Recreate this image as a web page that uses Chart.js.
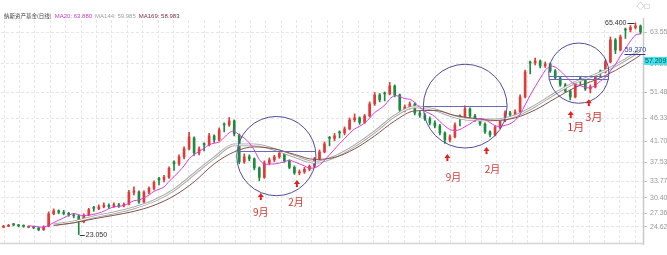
<!DOCTYPE html>
<html><head><meta charset="utf-8">
<script src="https://cdn.jsdelivr.net/npm/chart.js@4.4.1/dist/chart.umd.min.js"></script>
<style>html,body{margin:0;padding:0;background:#fff;overflow:hidden}#wrap{width:667px;height:255px;position:relative}</style>
</head><body><div id="wrap"><canvas id="c" width="667" height="255"></canvas></div>
<script>
// ---- data (one candle ≈ 2.5 trading days) ----
const opens  = [24.5,24.7,25.1,25.0,24.9,24.5,24.6,24.4,24.0,24.7,27.2,27.8,27.4,27.3,27.0,26.8,25.6,26.9,28.5,28.2,28.6,28.9,28.7,29.0,28.8,29.1,31.5,31.6,29.6,31.5,32.3,34.3,34.1,34.5,37.6,37.2,38.6,40.2,42.4,39.4,41.3,41.0,42.8,42.0,45.2,45.0,45.8,43.0,37.6,38.6,38.2,36.4,34.5,37.4,38.0,38.6,39.3,37.8,36.5,35.4,35.6,36.1,36.7,38.2,39.6,42.5,42.3,43.6,43.4,44.2,46.0,46.4,45.5,46.8,49.2,51.0,51.4,51.2,52.8,51.0,48.0,48.6,49.2,47.4,46.9,46.2,45.4,44.8,43.4,42.0,42.6,46.8,46.6,48.2,46.8,46.0,45.2,43.6,43.0,44.5,45.8,47.4,47.0,47.6,50.6,57.6,57.4,57.8,56.8,57.2,55.8,54.4,53.0,51.8,50.6,54.4,54.2,52.2,52.6,55.8,55.6,57.6,62.0,60.0,64.2,64.0,64.5,64.8];
const highs  = [24.9,25.1,25.3,25.1,25.0,24.8,24.7,24.5,24.8,27.6,28.2,28.0,27.9,27.5,27.3,27.0,27.2,28.3,28.7,29.0,29.4,29.2,29.4,29.3,29.4,31.9,32.6,31.8,31.8,32.6,33.8,34.5,34.9,36.6,37.8,39.0,40.6,43.5,42.6,40.6,41.4,43.3,43.0,44.4,45.4,46.5,46.0,43.2,39.2,39.0,38.4,36.6,37.8,38.4,38.9,39.8,39.5,38.0,36.8,36.0,36.5,37.0,38.5,40.0,41.6,42.7,43.3,43.8,44.6,46.4,47.2,46.6,47.1,49.6,51.5,51.3,51.6,53.5,53.0,51.2,49.0,49.6,49.4,47.8,47.3,46.6,45.8,45.1,43.6,43.0,45.4,47.0,48.8,48.4,47.1,46.3,45.4,43.8,44.8,46.1,47.8,47.7,48.0,51.0,56.0,57.8,58.4,58.0,57.6,57.4,56.1,54.6,53.3,52.0,53.5,54.6,54.4,53.0,55.1,56.0,58.0,62.6,62.3,63.0,64.4,64.9,65.4,65.0];
const lows   = [24.4,24.6,24.8,24.6,24.5,24.4,24.2,23.8,23.9,24.6,27.0,27.2,27.0,26.7,26.4,23.05,25.4,26.8,27.7,28.0,28.4,28.3,28.5,28.5,28.6,29.0,31.0,29.3,29.4,31.2,32.0,33.0,33.6,34.3,35.9,36.9,38.2,40.0,38.9,39.0,39.8,40.8,41.5,41.8,43.6,44.7,42.8,37.2,37.3,37.8,36.0,33.8,34.3,37.0,37.6,38.3,37.5,36.2,35.1,35.0,35.3,35.8,36.5,38.0,39.4,40.8,41.8,42.4,43.0,44.0,45.6,45.1,45.3,46.6,48.9,49.6,49.8,51.0,50.6,47.6,47.6,48.2,47.0,46.5,45.9,45.0,44.4,43.0,41.3,41.6,42.4,44.8,46.4,46.5,45.7,44.9,43.3,42.6,42.8,44.2,45.6,46.7,46.8,47.4,50.4,55.2,57.0,56.4,56.5,55.5,54.1,52.7,51.5,50.0,50.4,52.9,51.9,51.4,52.4,54.5,55.4,57.4,59.27,59.8,62.3,63.6,64.2,63.2];
const closes = [24.7,24.9,25.0,24.8,24.7,24.6,24.4,24.0,24.6,27.2,27.8,27.5,27.3,27.0,26.8,25.6,26.9,28.0,28.3,28.6,28.9,28.7,29.0,28.8,29.1,31.5,31.8,29.6,31.5,32.3,33.5,34.0,34.5,36.3,37.2,38.6,40.2,42.6,39.4,40.2,41.0,42.8,42.0,44.0,45.0,45.8,43.2,37.6,38.6,38.2,36.4,34.5,37.4,38.0,38.6,39.3,37.8,36.5,35.4,35.6,36.1,36.7,38.2,39.6,41.2,42.3,42.8,43.4,44.2,46.0,46.4,45.5,46.8,49.2,51.0,50.0,51.2,52.8,51.0,48.0,48.6,49.2,47.4,46.9,46.2,45.4,44.8,43.4,42.0,42.6,45.0,46.6,48.2,46.8,46.0,45.2,43.6,43.0,44.5,45.8,47.4,47.0,47.6,50.6,55.6,57.4,57.8,56.8,57.2,55.8,54.4,53.0,51.8,50.6,53.2,54.2,52.2,52.6,54.8,55.6,57.6,62.0,60.0,62.6,64.0,64.5,64.8,63.6];
const categories = closes.map((_, i) => i);

// long moving averages at every 4th candle
const maIdx  = [10,14,18,22,26,30,34,38,42,46,50,54,58,62,66,70,74,78,82,86,90,94,98,102,106,110,114,118,122,126,127];
const ma144v = [25.0,25.6,26.6,27.4,28.4,29.8,32.0,35.2,38.4,41.0,41.0,40.1,38.7,37.5,38.6,40.8,43.6,46.8,48.6,48.0,46.6,46.0,46.0,46.8,48.8,51.3,53.5,55.0,56.9,59.3,59.98];
const ma169v = [24.9,25.4,26.2,26.9,27.7,28.9,30.8,33.6,37.2,39.6,40.6,40.2,39.1,38.1,38.5,40.2,42.8,45.8,47.8,47.9,46.9,46.3,45.9,46.4,48.0,50.3,52.5,54.0,55.9,58.3,58.98];

const yTicks = [24.62,27.36,30.40,33.77,37.53,41.70,46.33,51.48,57.20,63.55];
const headerTitle = '纳斯资产基金(日线)';
const headerItems = [['MA20: 63.880','#c53ac5'],['MA144: 59.985','#a0a0a0'],['MA169: 58.983','#7a2c3c']];
const lastPrice = 57.209;

// annotations in data space (candle index, price)
const circles = [{from:46.5,to:62.3,value:38.76},{from:83.7,to:100.4,value:48.76},{from:108.7,to:120.7,value:55.36}];
const levels  = [{from:47,to:62.3,value:39.8},{from:83.7,to:100.4,value:48.76},{from:108.7,to:120.7,value:54.76},{from:108.7,to:120.7,value:54.15}];
const arrows  = [
  {i:51.3,v:30.56,text:'9月',ti:51.3,tv:27.56,size:10},
  {i:58.5,v:33.16,text:'2月',ti:58.3,tv:29.56,size:10},
  {i:88.5,v:38.36,text:'9月',ti:89.7,tv:34.56,size:10},
  {i:96.3,v:39.76,text:'2月',ti:97.5,tv:36.16,size:10},
  {i:113.1,v:46.96,text:'1月',ti:114.1,tv:44.56,size:11},
  {i:116.7,v:49.36,text:'3月',ti:117.7,tv:46.56,size:11}
];
const hiMark = {i:126, v:65.4, text:'65.400'};
const loMark = {i:15, v:23.05, text:'23.050'};
const recentLow = {i:122, v:59.27, text:'59.270'};

// ---- build ----
const N = closes.length;
const MA20_WINDOW = 6; // ≈20 trading days at this candle density
const ma20 = closes.map((_, i) => i < MA20_WINDOW - 1 ? null :
  closes.slice(i - MA20_WINDOW + 1, i + 1).reduce((a, b) => a + b, 0) / MA20_WINDOW);
function sparse(idx, vals){ const a = new Array(N).fill(null); idx.forEach((k, j) => a[k] = vals[j]); return a; }
const ma144 = sparse(maIdx, ma144v), ma169 = sparse(maIdx, ma169v);
const colors = closes.map((c, i) => c >= opens[i] ? '#e23a36' : '#1d8a3e');

const CJK = '"Noto Sans CJK SC"', LAT = '"Liberation Sans", "Noto Sans CJK SC"';

const annot = {
  id: 'annot',
  afterDatasetsDraw(chart){
    const {ctx, scales:{x, y}, chartArea:ca} = chart;
    const px = i => x.getPixelForValue(i), py = v => y.getPixelForValue(v);
    ctx.save();
    // axis lines
    ctx.strokeStyle = '#c9c9c9'; ctx.lineWidth = 1.5;
    ctx.beginPath(); ctx.moveTo(ca.right + 0.5, ca.top - 2); ctx.lineTo(ca.right + 0.5, ca.bottom + 2); ctx.stroke();
    ctx.strokeStyle = '#d6d6d6';
    ctx.beginPath(); ctx.moveTo(0, ca.bottom + 0.5); ctx.lineTo(ca.right, ca.bottom + 0.5); ctx.stroke();
    // circles and levels
    ctx.strokeStyle = '#4d4d9f'; ctx.lineWidth = 1;
    circles.forEach(c => {
      const x0 = px(c.from), x1 = px(c.to);
      ctx.beginPath(); ctx.arc((x0 + x1) / 2, py(c.value), (x1 - x0) / 2, 0, Math.PI * 2); ctx.stroke();
    });
    ctx.strokeStyle = '#6b6bb5';
    levels.forEach(l => {
      const yy = Math.round(py(l.value)) + 0.5;
      ctx.beginPath(); ctx.moveTo(px(l.from), yy); ctx.lineTo(px(l.to), yy); ctx.stroke();
    });
    // arrows + month labels
    arrows.forEach(a => {
      const ax = px(a.i), ay = py(a.v);
      ctx.fillStyle = '#e0201f';
      ctx.beginPath(); ctx.moveTo(ax, ay - 4); ctx.lineTo(ax - 3, ay); ctx.lineTo(ax + 3, ay); ctx.closePath(); ctx.fill();
      ctx.fillRect(ax - 1, ay, 2, 3);
      ctx.fillStyle = '#d23a35';
      ctx.font = a.size + 'px ' + CJK; ctx.textAlign = 'center'; ctx.textBaseline = 'middle';
      ctx.fillText(a.text, px(a.ti), py(a.tv));
    });
    // high / low marks
    ctx.font = '7px ' + LAT; ctx.textBaseline = 'middle';
    ctx.strokeStyle = '#333'; ctx.fillStyle = '#333'; ctx.lineWidth = 1;
    let hx = px(hiMark.i), hy = Math.round(py(hiMark.v)) + 0.5;
    ctx.beginPath(); ctx.moveTo(hx - 8, hy); ctx.lineTo(hx - 1, hy); ctx.stroke();
    ctx.textAlign = 'right'; ctx.fillText(hiMark.text, hx - 9, hy);
    let lx = px(loMark.i), ly = Math.round(py(loMark.v)) + 0.5;
    ctx.beginPath(); ctx.moveTo(lx + 1, ly); ctx.lineTo(lx + 6, ly); ctx.stroke();
    ctx.textAlign = 'left'; ctx.fillText(loMark.text, lx + 7, ly);
    let rx = px(recentLow.i), ry = Math.round(py(recentLow.v)) + 0.5;
    ctx.strokeStyle = '#3a3a9a';
    ctx.beginPath(); ctx.moveTo(rx + 9, ry); ctx.lineTo(rx + 30, ry); ctx.stroke();
    ctx.fillStyle = '#2e3aa8'; ctx.textAlign = 'center'; ctx.textBaseline = 'bottom';
    ctx.fillText(recentLow.text, rx + 20, ry - 0.5);
    ctx.restore();
  },
  afterDraw(chart){
    const {ctx, scales:{y}, chartArea:ca} = chart;
    ctx.save();
    // last price box
    const by = y.getPixelForValue(lastPrice) - 3;
    ctx.fillStyle = '#3fe3ea'; ctx.fillRect(ca.right + 1, by - 4, 24, 8);
    ctx.fillStyle = '#1a4a5a'; ctx.font = '7px ' + LAT; ctx.textAlign = 'left'; ctx.textBaseline = 'middle';
    ctx.fillText(lastPrice.toFixed(3), ca.right + 2, by);
    // header, laid out left to right
    ctx.textBaseline = 'middle';
    ctx.font = '5.5px ' + CJK; ctx.fillStyle = '#444';
    let hx = 4;
    ctx.fillText(headerTitle, hx, 16);
    hx += ctx.measureText(headerTitle).width + 3;
    ctx.font = '6px ' + LAT;
    headerItems.forEach(h => { ctx.fillStyle = h[1]; ctx.fillText(h[0], hx, 16); hx += ctx.measureText(h[0]).width + 3; });
    // corner icons
    ctx.fillStyle = '#999'; ctx.font = '8px ' + LAT; ctx.textAlign = 'center';
    ctx.fillText('◇□', ca.right, 7);
    ctx.restore();
  }
};

new Chart(document.getElementById('c'), {
  type: 'bar',
  data: {
    labels: categories,
    datasets: [
      {type:'line', data: ma20, borderColor:'#d83cd8', borderWidth:1, pointRadius:0, tension:0.3, order:1, xAxisID:'x', yAxisID:'y'},
      {type:'line', data: ma169, borderColor:'#85524a', borderWidth:1, pointRadius:0, spanGaps:true, cubicInterpolationMode:'monotone', order:2, xAxisID:'x', yAxisID:'y'},
      {type:'line', data: ma144, borderColor:'#ffffff', borderWidth:1, pointRadius:0, spanGaps:true, cubicInterpolationMode:'monotone', order:3, xAxisID:'x', yAxisID:'y'},
      {type:'line', data: ma144, borderColor:'#a9a9a9', borderWidth:2.8, pointRadius:0, spanGaps:true, cubicInterpolationMode:'monotone', order:4, xAxisID:'x', yAxisID:'y'},
      {type:'bar', data: opens.map((o, i) => [o, closes[i]]), backgroundColor: colors, barThickness:2, minBarLength:1, grouped:false, borderWidth:0, order:9, xAxisID:'x', yAxisID:'y'},
      {type:'bar', data: lows.map((l, i) => [l, highs[i]]), backgroundColor: colors, barThickness:1, grouped:false, borderWidth:0, order:10, xAxisID:'x', yAxisID:'y'}
    ]
  },
  options: {
    responsive:false, animation:false, devicePixelRatio:1,
    layout:{padding:{top:20, bottom:12, left:1, right:0}},
    plugins:{legend:{display:false}, tooltip:{enabled:false}},
    scales:{
      x:{type:'category', offset:true, display:false, grid:{display:false}},
      xg:{type:'linear', axis:'x', position:'bottom', min:-0.2, max:40.5, display:true,
          afterFit(s){ s.height = 0; },
          afterBuildTicks(s){ const t = []; for (let k = 0; k <= 40; k++) t.push({value:k}); s.ticks = t; },
          ticks:{display:false}, grid:{color:'#e6e6e6', drawTicks:false}, border:{display:false, dash:[3,2]}},
      y:{position:'right', min:21.36, max:66.0,
         afterFit(s){ s.width = 24; },
         afterBuildTicks(s){ s.ticks = yTicks.map(v => ({value:v})); },
         ticks:{callback: v => Number(v).toFixed(2), color:'#9a9a9a', font:{size:7, family:'Liberation Sans'}, padding:3},
         grid:{color:'#e6e6e6', tickLength:4, tickColor:'#c0c0c0'},
         border:{display:false, dash:[3,2]}}
    }
  },
  plugins:[annot]
});
</script>
</body></html>
